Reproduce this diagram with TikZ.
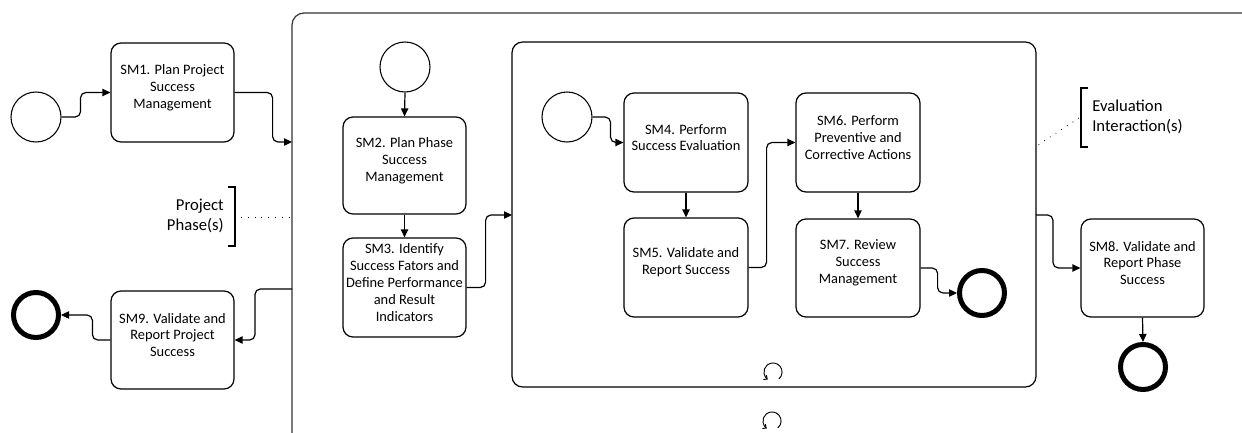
\documentclass[tikz,border=0pt]{standalone}
\usepackage{fontspec}
\setmainfont{Carlito}
\usetikzlibrary{arrows.meta,fit}
\begin{document}
\begin{tikzpicture}[x=0.75pt,y=-0.75pt,
  task/.style={draw, rounded corners=7.5pt, line width=0.9pt, inner sep=0pt, align=center, font=\fontsize{10.8}{12.6}\selectfont},
  startev/.style={draw, circle, minimum size=37.5pt, inner sep=0pt, line width=0.8pt},
  endev/.style={draw, circle, minimum size=33.75pt, inner sep=0pt, line width=3.75pt},
  conn/.style={line width=0.9pt, rounded corners=4pt, -{Triangle[length=6pt,width=5.5pt]}},
  note/.style={font=\fontsize{12.5}{15.5}\selectfont, inner sep=0pt},
  ann/.style={line width=0.8pt},
  dots/.style={line width=0.6pt, dash pattern=on 0.6pt off 4.5pt},
  loopm/.style={line width=0.7pt, -{Straight Barb[length=2.2pt,width=4pt]}},
  frame/.style={line width=0.9pt, rounded corners=9pt}
]
\useasboundingbox (0,0) rectangle (1242,432);
\clip (0,0) rectangle (1242,432);

% outer sub-process frame (cropped)
\draw[frame, draw=black!80] (292,470) -- (292,13) -- (1270,13);
% inner sub-process frame
\draw[frame, rounded corners=8pt] (512,42) rectangle (1036,387);

% loop markers
\coordinate (lp1) at (773,372);
\coordinate (lp2) at (772,421);
\draw[loopm] (lp1) ++(-50:6.8pt) arc[start angle=-50, end angle=235, radius=6.8pt];
\draw[loopm] (lp2) ++(-50:6.8pt) arc[start angle=-50, end angle=235, radius=6.8pt];

% events
\node[startev] (s1) at (36,117) {};
\node[endev] (e1) at (36,315) {};
\node[startev] (s2) at (405,67) {};
\node[startev] (s3) at (567,117) {};
\node[endev] (e3) at (982,293) {};
\node[endev] (e2) at (1143,367) {};

% tasks
\node[task, fit={(111,43) (234,142)}] (sm1) {SM1. Plan Project\\Success\\Management};
\node[task, fit={(111,291) (234,389)}] (sm9) {SM9. Validate and\\Report Project\\Success};
\node[task, fit={(343,117) (466,214)}] (sm2) {SM2. Plan Phase\\Success\\Management};
\node[task, fit={(343,238) (466,337)}] (sm3) {SM3. Identify\\Success Fators and\\Define Performance\\and Result\\Indicators};
\node[task, fit={(624,93) (748,192)}] (sm4) {SM4. Perform\\Success Evaluation};
\node[task, fit={(624,218) (748,317)}] (sm5) {SM5. Validate and\\Report Success};
\node[task, fit={(796,93) (920,192)}] (sm6) {SM6. Perform\\Preventive and\\Corrective Actions};
\node[task, fit={(796,219) (920,317)}] (sm7) {SM7. Review\\Success\\Management};
\node[task, fit={(1081,219) (1204,317)}] (sm8) {SM8. Validate and\\Report Phase\\Success};

% frame connection points
\coordinate (outerIn) at (292,142);
\coordinate (outerOut) at (292,289);
\coordinate (innerIn) at (512,215);
\coordinate (innerOut) at (1036,215);

% connectors
\draw[conn] (s1.east) -- ++(19,0) |- (sm1.west);
\draw[conn] (sm1.east) -- ++(38,0) |- (outerIn);
\draw[conn] (outerOut) -- ++(-37,0) |- (sm9.east);
\draw[conn] (sm9.west) -- ++(-18,0) |- (e1.east);
\draw[conn] (s2.south) -- (sm2.north);
\draw[conn] (sm2.south) -- (sm3.north);
\draw[conn] (sm3.east) -- ++(19,0) |- (innerIn);
\draw[conn] (s3.east) -- ++(18,0) |- (sm4.west);
\draw[conn] (sm4.south) -- (sm5.north);
\draw[conn] (sm5.east) -- ++(18,0) |- (sm6.west);
\draw[conn] (sm6.south) -- (sm7.north);
\draw[conn] (sm7.east) -- ++(17,0) |- (e3.west);
\draw[conn] (innerOut) -- ++(17,0) |- (sm8.west);
\draw[conn] (sm8.south) -- (e2.north);

% annotations
\node[note, anchor=east, align=right] (pp) at (224,216) {Project\\Phase(s)};
\draw[ann] (228,187) -- (235,187) -- (235,246) -- (228,246);
\coordinate (ppB) at (241,217);
\coordinate (ppF) at (289,217);
\draw[dots] (ppB) -- (ppF);

\node[note, anchor=west, align=left] (ev) at (1092,117) {Evaluation\\Interaction(s)};
\draw[ann] (1088,88) -- (1081,88) -- (1081,147) -- (1088,147);
\coordinate (evB) at (1079,118);
\coordinate (evF) at (1038,145);
\draw[dots] (evB) -- (evF);
\end{tikzpicture}
\end{document}
